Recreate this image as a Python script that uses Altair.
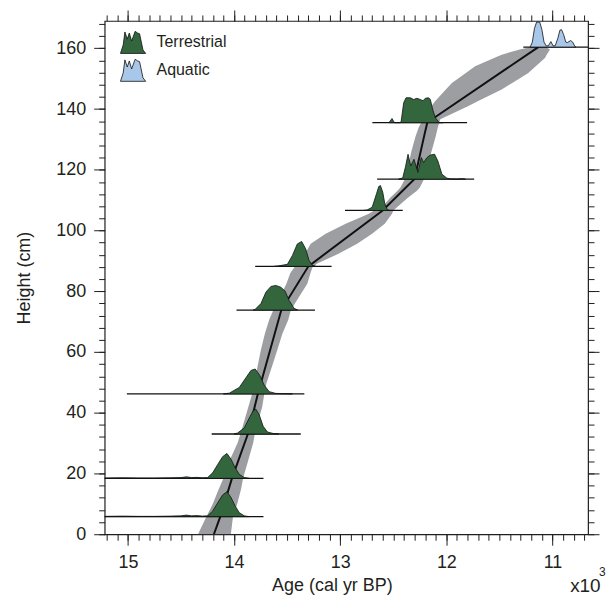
import altair as alt
import pandas as pd

# ---------------- data (ages in cal kyr BP, heights in cm) ----------------
model_depth = [0, 5.8, 18.4, 33.0, 46.2, 73.8, 88.2, 106.6, 117.0, 131.0, 135.5, 137.7, 160.4]
model_median = [14.19, 14.13, 14.02, 13.87, 13.776, 13.555, 13.30, 12.60, 12.30, 12.21, 12.18, 12.09, 11.134]

band_depth = [0, 5.8, 10, 14.7, 18.4, 23.5, 30, 33, 42, 46.2, 49.7, 55, 60.7, 66, 70.5, 73.8,
              78, 82.5, 86, 88, 89.1, 92.4, 95.6, 98.9, 102.2, 105.5, 106.6, 108.7, 110.9,
              113.1, 114.2, 117, 121, 126, 131, 134, 136.6, 139, 141, 142.6, 146.4, 148.6,
              151.9, 154.1, 156.8, 157.9, 159.6, 160.4]
band_old = [14.34, 14.26, 14.20, 14.146, 14.10, 14.052, 13.967, 13.94, 13.865, 13.83, 13.81,
            13.78, 13.747, 13.71, 13.67, 13.63, 13.57, 13.507, 13.47, 13.43, 13.40, 13.33,
            13.278, 13.137, 12.949, 12.73, 12.68, 12.58, 12.527, 12.46, 12.433, 12.39, 12.36,
            12.33, 12.29, 12.26, 12.22, 12.17, 12.14, 12.104, 12.005, 11.948, 11.817, 11.729,
            11.551, 11.479, 11.309, 11.20]
band_young = [14.03, 14.01, 13.97, 13.935, 13.915, 13.873, 13.82, 13.805, 13.735, 13.715, 13.695,
              13.645, 13.592, 13.545, 13.49, 13.465, 13.39, 13.31, 13.28, 13.26, 13.216, 13.012,
              12.84, 12.70, 12.58, 12.512, 12.50, 12.43, 12.36, 12.277, 12.25, 12.21, 12.18,
              12.14, 12.10, 12.08, 12.057, 11.912, 11.792, 11.70, 11.479, 11.379, 11.228, 11.158,
              11.071, 11.055, 11.024, 11.06]

date_depth = [5.8, 18.4, 33.0, 46.2, 73.8, 88.2, 106.6, 116.9, 135.5, 160.4]
date_type = ["Terrestrial"] * 9 + ["Aquatic"]
range_old = [15.6, 15.6, 14.211, 15.01, 13.977, 13.801, 12.955, 12.652, 12.697, 11.275]
range_young = [13.723, 13.723, 13.372, 13.338, 13.238, 13.081, 12.411, 11.738, 11.805, 10.40]

pdf_age = [
    [15.22, 15.05, 14.90, 14.75, 14.60, 14.50, 14.45, 14.40, 14.35, 14.30, 14.249, 14.202, 14.155,
     14.108, 14.067, 14.029, 13.989, 13.951, 13.904, 13.86],
    [15.22, 15.05, 14.90, 14.75, 14.60, 14.50, 14.45, 14.40, 14.35, 14.30, 14.249, 14.202, 14.155,
     14.108, 14.067, 14.029, 13.989, 13.951, 13.904, 13.86],
    [14.00, 13.967, 13.904, 13.857, 13.820, 13.795, 13.763, 13.726, 13.685, 13.622, 13.58],
    [14.10, 14.045, 13.951, 13.888, 13.841, 13.801, 13.757, 13.716, 13.669, 13.607, 13.513, 13.45],
    [13.82, 13.801, 13.747, 13.70, 13.653, 13.607, 13.56, 13.519, 13.482, 13.435, 13.40],
    [13.62, 13.592, 13.498, 13.451, 13.404, 13.363, 13.325, 13.294, 13.263, 13.23],
    [12.78, 12.746, 12.699, 12.658, 12.637, 12.621, 12.599, 12.580, 12.558, 12.54],
    [12.45, 12.411, 12.385, 12.361, 12.336, 12.305, 12.268, 12.236, 12.214, 12.182, 12.151,
     12.111, 12.08, 12.042, 11.995, 11.96, 11.90, 11.857, 11.82],
    [12.54, 12.512, 12.49, 12.44, 12.427, 12.402, 12.38, 12.339, 12.308, 12.277, 12.245, 12.220,
     12.198, 12.167, 12.151, 12.13, 12.104, 12.067, 12.03],
    [11.21, 11.19, 11.17, 11.15, 11.12, 11.10, 11.08, 11.06, 11.04, 11.015, 10.995, 10.975, 10.95,
     10.93, 10.915, 10.895, 10.875, 10.86, 10.83, 10.81, 10.79, 10.78],
]
pdf_dens = [
    [0.01, 0.02, 0.01, 0.01, 0.02, 0.03, 0.06, 0.03, 0.04, 0.02, 0.03, 0.22, 0.55, 0.87, 1.0, 0.77,
     0.42, 0.16, 0.03, 0.0],
    [0.01, 0.02, 0.01, 0.01, 0.02, 0.03, 0.06, 0.03, 0.04, 0.02, 0.03, 0.22, 0.55, 0.87, 1.0, 0.77,
     0.42, 0.16, 0.03, 0.0],
    [0.0, 0.04, 0.24, 0.64, 0.93, 1.0, 0.77, 0.31, 0.08, 0.01, 0.0],
    [0.0, 0.03, 0.26, 0.65, 0.94, 1.0, 0.74, 0.35, 0.09, 0.02, 0.01, 0.0],
    [0.0, 0.03, 0.26, 0.72, 0.95, 0.99, 0.92, 0.76, 0.39, 0.07, 0.0],
    [0.0, 0.01, 0.08, 0.43, 0.9, 1.0, 0.7, 0.24, 0.04, 0.0],
    [0.0, 0.02, 0.13, 0.67, 0.96, 1.0, 0.73, 0.27, 0.04, 0.0],
    [0.0, 0.05, 0.5, 1.0, 0.53, 0.8, 0.27, 0.87, 0.67, 0.87, 0.97, 1.0, 0.73, 0.2, 0.04, 0.01, 0.0,
     0.02, 0.0],
    [0.0, 0.17, 0.0, 0.0, 0.02, 0.8, 1.0, 1.0, 0.93, 0.98, 0.93, 0.88, 0.98, 1.0, 0.93, 0.55, 0.2,
     0.0, 0.0],
    [0.0, 0.2, 0.75, 1.0, 1.0, 0.7, 0.2, 0.05, 0.05, 0.22, 0.05, 0.05, 0.35, 0.68, 0.70, 0.5, 0.2,
     0.18, 0.26, 0.2, 0.03, 0.0],
]

PDF_SCALE = 8.2  # peak height of each probability curve, in cm of the height axis

# ---------------- tables ----------------
band_df = pd.DataFrame({"depth": band_depth, "old": band_old, "young": band_young})
median_df = pd.DataFrame({"depth": model_depth, "age": model_median})
range_df = pd.DataFrame({"depth": date_depth, "old": range_old, "young": range_young})
rows = []
for i, (d, t) in enumerate(zip(date_depth, date_type)):
    for a, p in zip(pdf_age[i], pdf_dens[i]):
        rows.append({"id": i, "type": t, "age": a, "base": d, "top": d + p * PDF_SCALE})
pdf_df = pd.DataFrame(rows)

FONT = "Liberation Sans"
INK = "#231f20"
xscale = alt.Scale(domain=[15.219, 10.665], nice=False, zero=False)
yscale = alt.Scale(domain=[0, 169], nice=False, zero=False)

x_minor_vals = [round(10.7 + 0.1 * i, 1) for i in range(46)]
y_minor_vals = list(range(0, 169, 4))


def major_x(orient, labels):
    return alt.Axis(orient=orient, values=[11, 12, 13, 14, 15], labels=labels, ticks=True,
                    tickSize=11, tickColor=INK, tickWidth=1, domain=False, grid=False,
                    labelFont=FONT, labelFontSize=18, labelColor=INK, labelPadding=8,
                    title="Age (cal yr BP)" if labels else None, titleFont=FONT,
                    titleFontSize=18, titleFontWeight="normal", titleColor=INK, titlePadding=5,
                    titleX=228, titleAlign="center")


def minor_x(orient):
    return alt.Axis(orient=orient, values=x_minor_vals, labels=False, ticks=True, tickSize=6,
                    tickColor=INK, tickWidth=1, domain=False, grid=False, title=None)


def major_y(orient, labels):
    return alt.Axis(orient=orient, values=list(range(0, 161, 20)), labels=labels, ticks=True,
                    tickSize=11, tickColor=INK, tickWidth=1, domain=False, grid=False,
                    labelFont=FONT, labelFontSize=18, labelColor=INK, labelPadding=8,
                    title="Height (cm)" if labels else None, titleFont=FONT,
                    titleFontSize=18, titleFontWeight="normal", titleColor=INK, titlePadding=22)


def minor_y(orient):
    return alt.Axis(orient=orient, values=y_minor_vals, labels=False, ticks=True, tickSize=6,
                    tickColor=INK, tickWidth=1, domain=False, grid=False, title=None)


band = alt.Chart(band_df).mark_area(orient="horizontal", color="#9c9ea1", opacity=1, clip=True).encode(
    y=alt.Y("depth:Q", scale=yscale, axis=major_y("left", True)),
    x=alt.X("old:Q", scale=xscale, axis=major_x("bottom", True), stack=None),
    x2="young:Q",
)

median = alt.Chart(median_df).mark_line(color="#111111", strokeWidth=2, clip=True).encode(
    x=alt.X("age:Q", scale=xscale, axis=minor_x("bottom")),
    y=alt.Y("depth:Q", scale=yscale, axis=minor_y("left")),
    order=alt.Order("depth:Q"),
)

ranges = alt.Chart(range_df).mark_rule(color="#111111", strokeWidth=1.3, clip=True).encode(
    x=alt.X("old:Q", scale=xscale, axis=minor_x("top")),
    x2="young:Q",
    y=alt.Y("depth:Q", scale=yscale, axis=minor_y("right")),
)

LEGEND_PATH = ("M-0.97,0.85 L-0.76,0.2 L-0.63,-0.8 L-0.45,-0.25 L-0.29,-0.72 L-0.11,-0.1 "
               "L0.16,-0.85 L0.34,-0.72 L0.5,-0.66 L0.76,0.58 L0.97,0.85 Z")

pdfs = alt.Chart(pdf_df).mark_area(stroke="#111111", strokeWidth=0.8, opacity=1, clip=True).encode(
    x=alt.X("age:Q", scale=xscale, axis=major_x("top", False)),
    y=alt.Y("top:Q", scale=yscale, axis=major_y("right", False), stack=None),
    y2="base:Q",
    detail="id:N",
    fill=alt.Fill("type:N",
                  scale=alt.Scale(domain=["Terrestrial", "Aquatic"], range=["#33663d", "#a9c7e9"]),
                  legend=alt.Legend(title=None, orient="none", legendX=15, legendY=8,
                                    symbolType=LEGEND_PATH, symbolSize=680,
                                    symbolStrokeColor="#111111", symbolStrokeWidth=0.8,
                                    symbolOpacity=1, labelFont=FONT, labelFontSize=16,
                                    labelColor=INK, labelOffset=10, rowPadding=1, padding=0)),
)

one = pd.DataFrame({"k": [0]})
x10 = alt.Chart(one).mark_text(font=FONT, fontSize=19, color=INK, align="left",
                               baseline="alphabetic").encode(
    x=alt.value(467), y=alt.value(573), text=alt.value("x10"))
exp3 = alt.Chart(one).mark_text(font=FONT, fontSize=12, color=INK, align="left",
                                baseline="alphabetic").encode(
    x=alt.value(496), y=alt.value(557), text=alt.value("3"))

chart = alt.layer(band, median, ranges, pdfs, x10, exp3).resolve_axis(
    x="independent", y="independent"
).properties(
    width=485, height=515,
    autosize=alt.AutoSizeParams(type="none"),
    padding={"left": 97, "top": 12, "right": 20, "bottom": 63},
    background="white",
).configure_view(stroke=INK, strokeWidth=1.2)

chart.save("out.html", embed_options={"renderer": "svg", "actions": False})
